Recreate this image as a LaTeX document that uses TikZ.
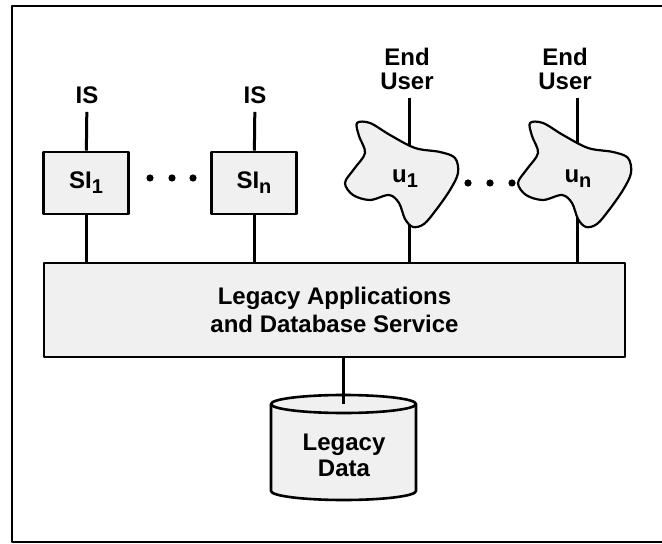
\documentclass[tikz,border=0pt]{standalone}
\usepackage{fontspec}
\setmainfont{Liberation Sans}
\usepackage{tikz}
\usetikzlibrary{positioning}

\newcommand{\lsub}[1]{\raisebox{-0.4ex}{\fontsize{10}{10}\selectfont #1}}

\begin{document}
\begin{tikzpicture}[x=0.5pt, y=-0.5pt, line join=round,
    font=\fontsize{12}{14}\selectfont\bfseries,
    box/.style={draw, line width=1.3pt, fill=black!6, inner sep=0pt},
    link/.style={line width=1.5pt},
    lbl/.style={align=center, inner sep=4pt},
    blob/.style={draw, line width=1.1pt, fill=black!6},
    userblob/.pic={\draw[blob] plot[smooth cycle, tension=0.55] coordinates
        {(-48,-55) (-35,-55) (-15,-43) (10,-30) (35,-26) (50,-20) (53,-5) (45,12)
         (31,32) (19,46) (8,49) (0,41) (-6,25) (-16,17) (-35,22) (-52,17) (-60,5)
         (-51,-9) (-40,-25) (-46,-42)};}]
    % Frame
    \useasboundingbox (0,0) rectangle (662,544);
    \draw[line width=1.3pt] (662,6) -- (12,6) -- (12,542) -- (662,542);

    % Service layer
    \node[box, minimum width=290.5pt, minimum height=47pt, align=center] (service) at (334.5,310)
        {Legacy Applications\\and Database Service};

    % Information systems
    \node[box, minimum width=42.5pt, minimum height=31pt] (si1) at (86,183) {SI\lsub{1}};
    \node[box, minimum width=42.5pt, minimum height=31pt] (sin) at (254,183) {SI\lsub{n}};
    \node[lbl] (is1) at (87,95) {IS};
    \node[lbl] (isn) at (255,95) {IS};
    \draw[link] (is1) -- (si1);
    \draw[link] (isn) -- (sin);
    \draw[link] (si1.south) -- (si1.south |- service.north);
    \draw[link] (sin.south) -- (sin.south |- service.north);
    \foreach \x in {150,172,193} \fill (\x,178) circle (1.8pt);

    % End users
    \node[lbl, font=\fontsize{12}{12}\selectfont\bfseries] (eu1) at (407,69) {End\\User};
    \node[lbl, font=\fontsize{12}{12}\selectfont\bfseries] (eun) at (565,69) {End\\User};
    \coordinate (eu1 top) at (409,98);
    \coordinate (eun top) at (577,98);
    \draw[link] (eu1 top) -- (eu1 top |- service.north);
    \draw[link] (eun top) -- (eun top |- service.north);
    \pic at (405,178) {userblob};
    \node (u1) at (405,179) {u\lsub{1}};
    \pic at (578,178) {userblob};
    \node (un) at (578,179) {u\lsub{n}};
    \foreach \x in {468,490,512} \fill (\x,183) circle (1.8pt);

    % Legacy data store
    \draw[box] (271,404) -- (271,491) arc (180:360:36.25pt and 4.5pt)
        -- (416,404) arc (0:180:36.25pt and 4.5pt) -- cycle;
    \draw[line width=1.3pt] (271,404) arc (180:360:36.25pt and 4.5pt);
    \node[lbl, font=\fontsize{12}{13}\selectfont\bfseries] (data) at (344,455) {Legacy\\Data};
    \coordinate (data top) at (343.5,404);
    \draw[link] (service.south -| data top) -- (data top);
\end{tikzpicture}
\end{document}
